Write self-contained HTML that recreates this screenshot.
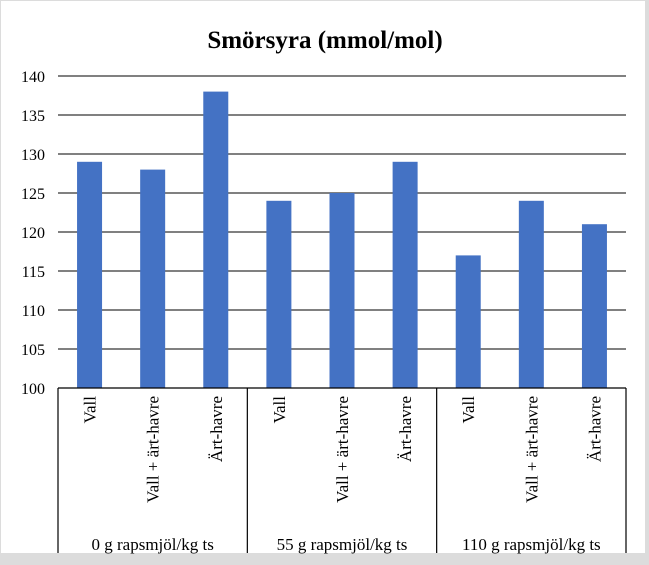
<!DOCTYPE html>
<html><head><meta charset="utf-8"><style>
html,body{margin:0;padding:0;width:649px;height:565px;background:#dcdcdc;overflow:hidden}
#frame{position:absolute;left:1px;top:1px;width:644px;height:552px;background:#fff}
svg{position:absolute;left:0;top:0}
text{font-family:"Liberation Serif",serif;fill:#000}
</style></head><body>
<div id="frame"></div>
<svg id="chart" width="649" height="565">
<text x="325" y="48" text-anchor="middle" font-size="25" font-weight="bold">Smörsyra  (mmol/mol)</text>
<g id="grid"></g><g id="bars"></g><g id="axis"></g>
</svg>
<script>
const categories=["Vall","Vall + ärt-havre","Ärt-havre","Vall","Vall + ärt-havre","Ärt-havre","Vall","Vall + ärt-havre","Ärt-havre"];
const values=[129,128,138,124,125,129,117,124,121];
const groups=["0 g rapsmjöl/kg ts","55 g rapsmjöl/kg ts","110 g rapsmjöl/kg ts"];
const ticks=[100,105,110,115,120,125,130,135,140];
const NS="http://www.w3.org/2000/svg";
const L=58,R=626,T=76,B=388,ymin=100,ymax=140;
const y=v=>B-(v-ymin)/(ymax-ymin)*(B-T);
const step=(R-L)/categories.length;
const x=i=>L+step*(i+0.5);
function mk(tag,attrs,parent){const e=document.createElementNS(NS,tag);for(const k in attrs)e.setAttribute(k,attrs[k]);parent.appendChild(e);return e;}
const grid=document.getElementById('grid'),bars=document.getElementById('bars'),axis=document.getElementById('axis');
ticks.forEach(t=>{
  if(t!==ymin){const l=mk('line',{x1:L,x2:R,y1:y(t),y2:y(t),stroke:'#000','stroke-width':1},grid);
  
  }
  const tx=mk('text',{x:45,y:y(t)+6,'text-anchor':'end','font-size':16},axis);tx.textContent=t;
  
  
});
values.forEach((v,i)=>{
  const r=mk('rect',{x:x(i)-12.5,y:y(v),width:25,height:B-y(v),fill:'#4472c4'},bars);
  
  
  const t=mk('text',{transform:`translate(${x(i)+6},396) rotate(-90)`,'text-anchor':'end','font-size':17},axis);
  t.textContent=categories[i];
  
  
});
const ax=mk('line',{x1:L,x2:R,y1:B,y2:B,stroke:'#000','stroke-width':1.2},axis);


for(let g=0;g<=groups.length;g++){
  const gx=L+step*3*g;
  const l=mk('line',{x1:gx,x2:gx,y1:B,y2:553,stroke:'#000','stroke-width':1.2},axis);
  
  
}
groups.forEach((g,k)=>{
  const t=mk('text',{x:L+step*3*(k+0.5),y:550,'text-anchor':'middle','font-size':17},axis);
  t.textContent=g;
  
  
});
</script>
</body></html>
